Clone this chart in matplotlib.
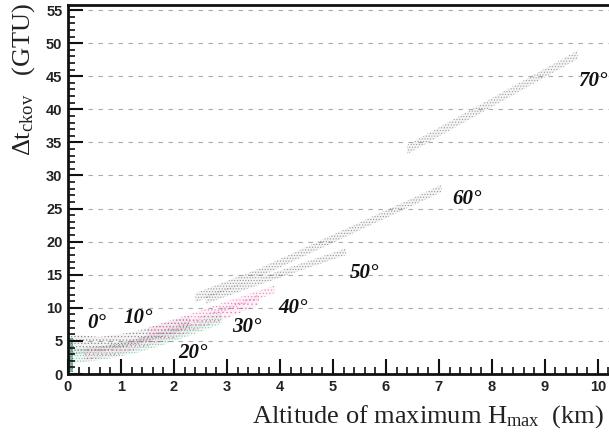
import matplotlib
matplotlib.use("Agg")
import matplotlib.pyplot as plt
from matplotlib.colors import to_rgba
import numpy as np

plt.rcParams['mathtext.fontset'] = 'custom'
plt.rcParams['mathtext.rm'] = 'Liberation Serif'
plt.rcParams['mathtext.it'] = 'Liberation Serif:italic'
plt.rcParams['hatch.linewidth'] = 0.5

# spread of delta t vs Hmax for each zenith angle (lower / upper edge of each band)
band_names = ["0", "10", "20", "30", "40", "50", "60", "70"]
band_x = [
    [0.0, 0.1],
    [0.05, 0.6, 1.2, 1.8, 2.3],
    [0.1, 0.7, 1.3, 2.0, 2.9],
    [0.3, 1.0, 2.0, 3.0, 3.6],
    [1.5, 2.5, 3.9],
    [2.6, 3.4, 5.25],
    [2.4, 3.6, 7.05],
    [6.4, 9.62],
]
band_lo = [
    [0.3, 0.3],
    [3.0, 3.3, 4.3, 5.6, 7.0],
    [1.6, 2.2, 3.2, 4.9, 7.6],
    [2.0, 3.0, 5.4, 8.4, 10.4],
    [5.6, 8.2, 12.2],
    [10.6, 12.9, 18.0],
    [10.8, 14.6, 27.5],
    [33.2, 47.6],
]
band_hi = [
    [5.4, 5.4],
    [6.0, 5.6, 6.3, 7.6, 8.8],
    [3.8, 4.3, 5.3, 6.8, 9.2],
    [3.8, 4.6, 7.2, 10.2, 12.0],
    [7.0, 9.6, 13.4],
    [11.8, 14.0, 19.0],
    [12.2, 15.9, 28.6],
    [34.6, 48.9],
]
band_colors = ["#1f7a62", "#555555", "#3fb07a", "#e0449a", "#e86ab0", "#666666", "#666666", "#707070"]
band_hatch = ["..........", ".....", "......", "....", ".....", "......", "......", "......"]
band_alpha = [0.95, 0.6, 0.6, 0.6, 0.7, 0.6, 0.6, 0.6]
band_fill = [0.45, 0.07, 0.07, 0.07, 0.07, 0.07, 0.07, 0.07]

# angle labels
label_x = [0.55, 1.32, 2.36, 3.38, 4.25, 5.6, 7.53, 9.9]
label_y = [7.7, 8.4, 3.15, 7.05, 10.0, 15.3, 26.4, 44.3]

fig = plt.figure(figsize=(6.09, 4.33), dpi=100)
ax = fig.add_axes([68 / 609, 59 / 433, 541 / 609, 369 / 433])

for i in range(len(band_names)):
    ax.fill_between(band_x[i], band_lo[i], band_hi[i], facecolor=band_colors[i],
                    alpha=band_fill[i], linewidth=0)
    ax.fill_between(band_x[i], band_lo[i], band_hi[i], facecolor="none",
                    edgecolor=to_rgba(band_colors[i], band_alpha[i]),
                    hatch=band_hatch[i], linewidth=0)

for i in range(len(band_names)):
    ax.text(label_x[i], label_y[i], band_names[i] + "°", ha="center", va="center",
            fontsize=15, fontweight="bold", fontstyle="italic",
            fontfamily="Liberation Serif", color="#111111")

ax.set_xlim(0, 10.21)
ax.set_ylim(0, 55.76)
ax.set_xticks(np.arange(0, 11, 1))
ax.set_xticks(np.arange(0, 10.21, 0.2), minor=True)
ax.set_yticks(np.arange(0, 56, 5))
ax.set_yticks(np.arange(0, 56, 1), minor=True)

for y in range(5, 56, 5):
    ax.axhline(y, color="#aaaaaa", linewidth=0.8, linestyle=(0, (4, 5)), zorder=0)

ax.spines["right"].set_visible(False)
for s in ["left", "bottom", "top"]:
    ax.spines[s].set_linewidth(2.0)
    ax.spines[s].set_color("#111111")

ax.tick_params(axis="both", which="major", direction="in", length=11, width=1.5,
               color="#111111", labelsize=10.5, pad=4)
ax.tick_params(axis="both", which="minor", direction="in", length=5, width=1.2,
               color="#111111")
for lab in ax.get_xticklabels() + ax.get_yticklabels():
    lab.set_fontfamily("Liberation Sans")
    lab.set_fontweight("bold")
    lab.set_color("#222222")

fig.text(604 / 609, 10 / 433, r"Altitude of maximum H$_{\mathrm{max}}$  (km)",
         ha="right", va="baseline", fontsize=19, fontfamily="Liberation Serif",
         color="#222222")
fig.text(24 / 609, 1 - 3 / 433, r"Δt$_{\mathrm{ckov}}$   (GTU)", rotation=90,
         ha="center", va="top", fontsize=19, fontfamily="Liberation Serif",
         color="#222222")

fig.savefig("out.png", dpi=100)
